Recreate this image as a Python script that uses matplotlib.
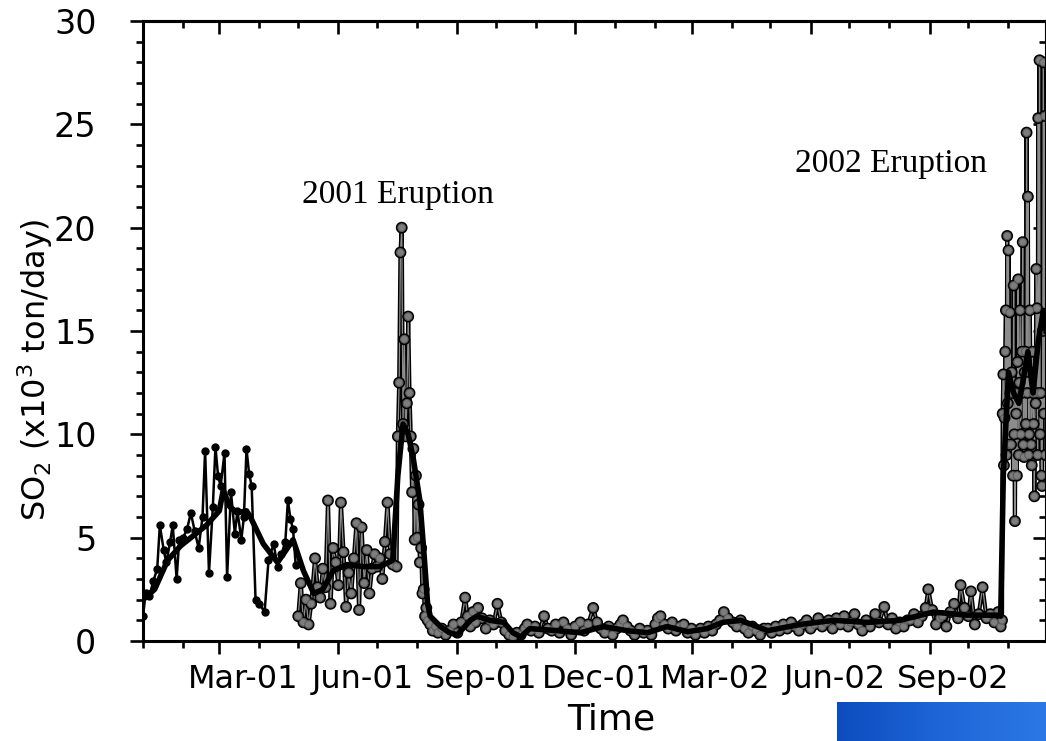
import numpy as np
import matplotlib
matplotlib.use("Agg")
import matplotlib.pyplot as plt
import matplotlib.dates as mdates
import matplotlib.patheffects as pe
from matplotlib.transforms import ScaledTranslation

start = np.datetime64("2001-01-01T00")

# early COSPEC-style record (black circles), days since 1 Jan 2001
early_day = [0, 2, 5, 8, 11, 13, 16, 18, 21, 23, 26, 28, 31, 34, 37, 40, 43, 46,
             48, 51, 54, 56, 58, 60, 63, 65, 68, 71, 73, 76, 78, 80, 82, 84, 87,
             90, 94, 97, 101, 104, 107, 110, 112, 114, 116, 118]
early_so2 = [1.2, 2.3, 2.2, 2.9, 3.5, 5.6, 4.4, 3.8, 4.8, 5.6, 3.0, 4.9, 5.0, 5.4,
             6.2, 5.3, 4.5, 6.0, 9.2, 3.3, 6.5, 9.4, 8.0, 7.5, 9.1, 3.1, 7.2, 5.2,
             6.3, 4.9, 6.0, 9.3, 8.1, 7.5, 2.0, 1.8, 1.4, 3.9, 4.7, 3.6, 4.2, 4.8,
             6.8, 5.9, 5.4, 3.7]

# later daily record (grey markers)
late_day = [120, 122, 124, 126, 128, 130, 133, 135, 137, 139, 141, 143, 145, 147,
            149, 151, 153, 155, 157, 159, 161, 163, 165, 167, 169, 171, 173, 175,
            177, 179, 181, 183, 185, 187, 189, 191, 193, 196, 197, 198, 199, 200,
            201, 202, 203, 204, 205, 206, 207, 208, 209, 210, 211, 212, 213, 214,
            215, 216, 217, 218, 219,
            220, 222, 224, 226, 228, 231, 234, 237, 240, 243, 246, 249, 251, 253,
            255, 257, 259, 262, 265, 268, 271, 274, 277, 280, 283, 286, 289, 292,
            295, 297, 300, 303, 306, 310, 313, 316, 319, 322, 325, 328, 331, 334,
            338, 341, 344, 348, 351, 354, 357, 360, 363, 366, 369, 371, 374, 377,
            380, 384, 387, 390, 393, 396, 398, 400, 403, 406, 409, 412, 415, 418,
            421, 424, 427, 431, 434, 437, 440, 443, 446, 449, 452, 456, 459, 462,
            465, 468, 471, 474, 477, 480, 483, 486, 489, 492, 495, 498, 501, 504,
            507, 510, 513, 516, 519, 522, 525, 528, 530, 533, 536, 539, 542, 545,
            547, 550, 553, 556, 559, 562, 566, 569, 573, 576, 579, 582, 585, 588,
            591, 593, 596, 599, 602, 605, 607, 610, 613, 616, 618, 621, 624, 627,
            630, 632, 635, 638, 640, 643, 646, 649, 652, 655, 658, 661, 663,
            664, 664.5, 665, 665.5, 666, 666.5, 667, 667.5, 668, 668.5, 669, 669.5,
            670, 670.5, 671, 671.5, 672, 672.5, 673, 673.5, 674, 674.5, 675, 675.5,
            676, 676.5, 677, 677.5, 678, 678.5, 679, 679.5, 680, 680.5, 681, 681.5,
            682, 682.5, 683, 683.5, 684, 684.5, 685, 685.5, 686, 686.5, 687, 687.5,
            688, 688.5, 689, 689.5, 690, 690.5, 691, 691.5, 692, 692.5, 693, 693.5,
            694, 694.5, 695, 695.5, 696, 696.5, 697, 697.5]
late_so2 = [1.2, 2.8, 0.9, 2.0, 0.8, 1.8, 4.0, 2.6, 2.1, 3.5, 2.6, 6.8, 1.8, 4.5,
            3.8, 2.7, 6.7, 4.3, 1.65, 3.3, 2.3, 4.0, 5.7, 1.5, 5.5, 2.8, 4.4, 2.3,
            3.5, 4.2, 3.6, 4.0, 3.0, 4.8, 6.7, 4.2, 3.7, 3.6, 9.9, 12.5, 18.8, 20.0,
            10.5, 14.6, 9.9, 11.5, 15.7, 12.0, 9.9, 7.2, 9.3, 4.9, 8.0, 5.0, 6.6, 3.8,
            4.5, 2.3, 2.5, 1.2, 1.6,
            1.0, 0.8, 0.5, 0.7, 0.4, 0.6, 0.3, 0.5, 0.8, 0.4, 0.9, 2.1, 1.2, 0.7,
            1.4, 0.9, 1.6, 1.1, 0.6, 1.0, 0.8, 1.8, 0.9, 0.5, 0.3, 0.2, 0.4, 0.3,
            0.6, 0.8, 0.5, 0.7, 0.4, 1.2, 0.6, 0.5, 0.8, 0.4, 0.9, 0.6, 0.3, 0.7,
            0.9, 0.5, 0.8, 1.6, 0.9, 0.6, 0.4, 0.7, 0.3, 0.6, 0.8, 1.0, 0.7, 0.5,
            0.3, 0.6, 0.4, 0.5, 0.3, 0.8, 1.1, 1.2, 0.8, 0.6, 0.9, 0.5, 0.7, 0.8,
            0.4, 0.6, 0.3, 0.6, 0.4, 0.7, 0.5, 0.8, 1.0, 1.4, 1.1, 0.9, 0.7, 1.0,
            0.6, 0.4, 0.7, 0.5, 0.3, 0.6, 0.6, 0.4, 0.7, 0.5, 0.8, 0.6, 0.9, 0.7,
            0.5, 0.8, 1.0, 0.6, 0.8, 1.1, 0.7, 0.9, 1.0, 0.6, 1.1, 0.8, 1.2, 0.7,
            0.9, 1.3, 0.8, 0.5, 1.0, 0.7, 1.3, 0.9, 1.65, 0.8, 1.1, 0.6, 0.9, 0.7,
            1.0, 1.0, 1.3, 0.9, 1.2, 1.6, 2.5, 1.5, 0.8, 1.1, 1.2, 0.7, 1.4, 1.8,
            1.1, 2.7, 1.6, 1.2, 2.4, 0.8, 1.3, 2.6, 1.1, 1.3, 0.9, 1.4, 0.7,
            1.0, 11.0, 12.9, 8.5, 10.8, 14.0, 16.0, 9.0, 19.6, 11.5, 18.9, 9.5,
            15.9, 12.0, 9.5, 13.0, 12.0, 8.0, 17.2, 10.0, 5.8, 12.0, 11.0, 8.0,
            13.5, 17.5, 9.0, 12.5, 16.0, 10.0, 12.0, 14.0, 19.3, 9.5, 8.9, 13.0,
            14.0, 10.5, 24.6, 12.0, 21.5, 9.0, 10.0, 16.0, 13.0, 9.5, 8.5, 14.0,
            12.0, 10.5, 7.0, 12.0, 11.5, 18.0, 16.1, 9.0, 25.3, 12.0, 28.1, 10.0,
            12.0, 8.0, 7.5, 15.0, 28.0, 11.0, 25.4, 9.0]

# running mean
mean_day = [0, 9, 19, 29, 39, 49, 59, 62, 67, 73, 80, 83, 93, 104, 116, 124, 132,
            139, 147, 158, 170, 183, 193, 197, 201, 205, 209, 214, 217, 220, 222,
            230, 237, 243, 253, 258, 268, 279, 286, 292, 299, 320, 338, 356, 374,
            390, 405, 421, 436, 448, 462, 483, 508, 534, 560, 585, 611, 637, 660,
            663, 665, 669, 673, 677, 680, 684, 688, 692, 696, 698]
mean_so2 = [2.0, 2.5, 3.9, 4.6, 5.1, 5.6, 6.3, 7.3, 6.5, 6.2, 6.3, 6.0, 4.7, 3.8,
            4.9, 3.4, 2.3, 2.5, 3.4, 3.7, 3.6, 3.6, 3.9, 8.0, 10.5, 10.0, 8.8, 6.8,
            4.4, 1.8, 1.2, 0.7, 0.4, 0.3, 1.0, 1.2, 1.0, 0.9, 0.4, 0.2, 0.6, 0.5,
            0.4, 0.7, 0.5, 0.4, 0.7, 0.45, 0.6, 0.9, 1.0, 0.5, 0.8, 1.0, 0.9, 1.0,
            1.4, 1.25, 1.25, 1.2, 8.0, 13.0, 12.0, 11.5, 12.5, 14.0, 12.0, 14.5,
            16.0, 15.0]


def to_dates(days):
    hours = np.round(np.array(days, dtype=float) * 24).astype("timedelta64[h]")
    return start + hours


plt.rcParams["font.family"] = ["DejaVu Sans"]
plt.rcParams["mathtext.default"] = "regular"

fig = plt.figure(figsize=(10.46, 7.41), dpi=100)
ax = fig.add_axes([143 / 1046, 100 / 741, 903 / 1046, 620 / 741])

# daily values
ax.plot(to_dates(late_day), late_so2, color="#8c8c8c", lw=0.9, marker="o",
        ms=5.5, mfc="#7d7d7d", mec="#5a5a5a", mew=0.8, zorder=2,
        path_effects=[pe.Stroke(linewidth=3, foreground="black"), pe.Normal()])
ax.plot(to_dates(early_day), early_so2, color="black", lw=1.8, marker="o",
        ms=5, mfc="black", mec="black", zorder=3)
# running mean
ax.plot(to_dates(mean_day), mean_so2, color="black", lw=4, zorder=4)

ax.set_xlim(start, start + np.timedelta64(698 * 24, "h"))
ax.set_ylim(0, 30)

ax.xaxis.set_major_locator(mdates.MonthLocator(bymonth=[3, 6, 9, 12]))
ax.xaxis.set_minor_locator(mdates.MonthLocator())
ax.xaxis.set_major_formatter(mdates.DateFormatter("%b-%y"))
ax.yaxis.set_major_locator(plt.MultipleLocator(5))
ax.yaxis.set_minor_locator(plt.MultipleLocator(1))

ax.tick_params(which="both", direction="out", width=1.9, labelsize=23)
ax.tick_params(axis="y", labelsize=24)
ax.tick_params(which="major", length=9.5)
ax.tick_params(which="minor", length=5)
ax.tick_params(axis="x", pad=7)
ax.tick_params(axis="y", pad=24)
for s in ax.spines.values():
    s.set_linewidth(2.2)

# month labels sit a little right of their ticks
shift = ScaledTranslation(0.24, 0, fig.dpi_scale_trans)
for lab in ax.get_xticklabels():
    lab.set_transform(lab.get_transform() + shift)

# mirrored ticks on top and right, pointing inward
top = ax.secondary_xaxis("top")
top.xaxis.set_major_locator(mdates.MonthLocator(bymonth=[3, 6, 9, 12]))
top.xaxis.set_minor_locator(mdates.MonthLocator())
top.tick_params(which="both", direction="in", width=1.9, labeltop=False)
top.tick_params(which="major", length=9.5)
top.tick_params(which="minor", length=5)
top.spines["top"].set_linewidth(2.2)

right = ax.secondary_yaxis("right")
right.yaxis.set_major_locator(plt.MultipleLocator(5))
right.yaxis.set_minor_locator(plt.MultipleLocator(1))
right.tick_params(which="both", direction="in", width=1.9, labelright=False)
right.tick_params(which="major", length=9.5)
right.tick_params(which="minor", length=5)
right.spines["right"].set_linewidth(2.2)

ax.set_xlabel("Time", fontsize=26)
ax.xaxis.set_label_coords(0.518, -0.1)
ax.set_ylabel(r"SO$_2$ (x10$^3$ ton/day)", fontsize=23)
ax.yaxis.set_label_coords(-0.097, 0.437)

ax.text(start + np.timedelta64(197 * 24, "h"), 21.2, "2001 Eruption",
        fontsize=24, family="Liberation Serif", ha="center", va="baseline")
ax.text(start + np.timedelta64(578 * 24, "h"), 22.7, "2002 Eruption",
        fontsize=24, family="Liberation Serif", ha="center", va="baseline")

# blue strip in the lower right corner
band = fig.add_axes([837 / 1046, 0, 209 / 1046, 39 / 741])
grad = np.linspace(0, 1, 200)[None, :]
band.imshow(grad, aspect="auto", extent=[0, 1, 0, 1],
            cmap=matplotlib.colors.LinearSegmentedColormap.from_list(
                "strip", ["#0c4cbf", "#1f66d8", "#2b78e6"]))
band.set_axis_off()

fig.savefig("out.png", dpi=100)
